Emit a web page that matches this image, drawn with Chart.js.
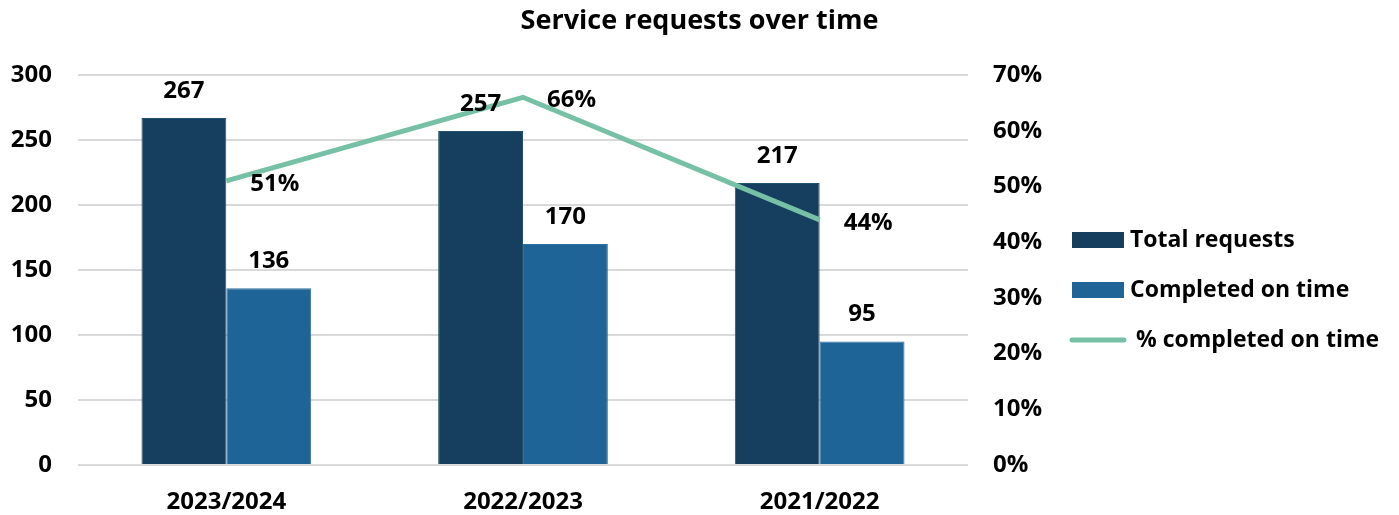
<!DOCTYPE html>
<html>
<head>
<meta charset="utf-8">
<title>Service requests over time</title>
<script src="https://cdn.jsdelivr.net/npm/chart.js@4.4.0/dist/chart.umd.min.js"></script>
<style>
  html, body { margin: 0; padding: 0; background: #fff; }
  #wrap { width: 1399px; height: 515px; }
</style>
</head>
<body>
<div id="wrap"><canvas id="chart"></canvas></div>
<script>
// years shown left to right
const years = ["2023/2024", "2022/2023", "2021/2022"];
const totalRequests = [267, 257, 217];
const completedOnTime = [136, 170, 95];
const pctOnTime = [51, 66, 44];

const leftTicks = [0, 50, 100, 150, 200, 250, 300];
const rightTicks = [0, 10, 20, 30, 40, 50, 60, 70];

const TITLE = "Service requests over time";
const FONT = "'Open Sans', 'Liberation Sans', sans-serif";
const NAVY = "#163f5f";
const BLUE = "#1f6496";
const GREEN = "#76c1a6";

// title centred on the whole canvas, not just the plot
const pageTitle = {
  id: "pageTitle",
  afterDraw(chart) {
    const ctx = chart.ctx;
    ctx.save();
    ctx.font = "bold 27px " + FONT;
    ctx.fillStyle = "#000";
    ctx.textAlign = "center";
    ctx.textBaseline = "middle";
    ctx.fillText(TITLE, chart.width / 2, 21);
    ctx.restore();
  }
};

// value labels over bars and next to the line points
const valueLabels = {
  id: "valueLabels",
  afterDatasetsDraw(chart) {
    const ctx = chart.ctx;
    ctx.save();
    ctx.font = "bold 24px " + FONT;
    ctx.fillStyle = "#000";
    ctx.textBaseline = "middle";
    chart.data.datasets.forEach((ds, i) => {
      const meta = chart.getDatasetMeta(i);
      meta.data.forEach((el, j) => {
        if (ds.type === "line") {
          ctx.textAlign = "left";
          ctx.fillText(ds.data[j] + "%", el.x + 24, el.y + 3);
        } else {
          ctx.textAlign = "center";
          ctx.fillText(ds.data[j], el.x, el.y - 27);
        }
      });
    });
    ctx.restore();
  }
};

// legend on the right, bars as blocks and the line as a stroke
const sideLegend = {
  id: "sideLegend",
  afterDraw(chart) {
    const ctx = chart.ctx;
    ctx.save();
    ctx.font = "bold 23px " + FONT;
    ctx.textBaseline = "middle";
    ctx.textAlign = "left";
    let y = 240;
    chart.data.datasets.forEach(ds => {
      if (ds.type === "line") {
        ctx.strokeStyle = ds.borderColor;
        ctx.lineWidth = 5;
        ctx.lineCap = "round";
        ctx.beginPath();
        ctx.moveTo(1072, y);
        ctx.lineTo(1124, y);
        ctx.stroke();
        ctx.fillStyle = "#000";
        ctx.fillText(ds.label, 1136, y);
      } else {
        ctx.fillStyle = ds.backgroundColor;
        ctx.fillRect(1072, y - 8, 52, 16);
        ctx.fillStyle = "#000";
        ctx.fillText(ds.label, 1130, y);
      }
      y += 50;
    });
    ctx.restore();
  }
};

new Chart(document.getElementById("chart"), {
  data: {
    labels: years,
    datasets: [
      {
        type: "bar",
        label: "Total requests",
        data: totalRequests,
        yAxisID: "y",
        backgroundColor: NAVY,
        borderColor: "#24506f",
        borderWidth: 1,
        barPercentage: 1,
        categoryPercentage: 0.572,
        order: 1
      },
      {
        type: "bar",
        label: "Completed on time",
        data: completedOnTime,
        yAxisID: "y",
        backgroundColor: BLUE,
        borderColor: "#2d70a0",
        borderWidth: 1,
        barPercentage: 1,
        categoryPercentage: 0.572,
        order: 1
      },
      {
        type: "line",
        label: "% completed on time",
        data: pctOnTime,
        yAxisID: "yPct",
        borderColor: GREEN,
        backgroundColor: GREEN,
        borderWidth: 5,
        pointRadius: 0,
        tension: 0,
        order: 0
      }
    ]
  },
  plugins: [pageTitle, valueLabels, sideLegend],
  options: {
    responsive: true,
    maintainAspectRatio: false,
    animation: false,
    layout: { padding: { left: 0, right: 351, top: 75, bottom: 2 } },
    plugins: {
      legend: { display: false },
      tooltip: { enabled: false },
      title: { display: false }
    },
    scales: {
      x: {
        afterFit: s => { s.height = 48; },
        grid: { display: false },
        border: { display: false },
        ticks: {
          color: "#000",
          font: { family: FONT, size: 24, weight: "bold" },
          padding: 15
        }
      },
      y: {
        position: "left",
        min: leftTicks[0],
        max: leftTicks[leftTicks.length - 1],
        afterBuildTicks: s => { s.ticks = leftTicks.map(v => ({ value: v })); },
        afterFit: s => { s.width = 78; },
        grid: { color: "#d9d9d9", lineWidth: 2, drawTicks: false },
        border: { display: false },
        ticks: {
          color: "#000",
          font: { family: FONT, size: 24, weight: "bold" },
          padding: 26
        }
      },
      yPct: {
        position: "right",
        min: rightTicks[0],
        max: rightTicks[rightTicks.length - 1],
        afterBuildTicks: s => { s.ticks = rightTicks.map(v => ({ value: v })); },
        afterFit: s => { s.width = 80; },
        grid: { display: false, drawTicks: false },
        border: { display: false },
        ticks: {
          color: "#000",
          font: { family: FONT, size: 24, weight: "bold" },
          padding: 25,
          callback: v => v + "%"
        }
      }
    }
  }
});
</script>
</body>
</html>
